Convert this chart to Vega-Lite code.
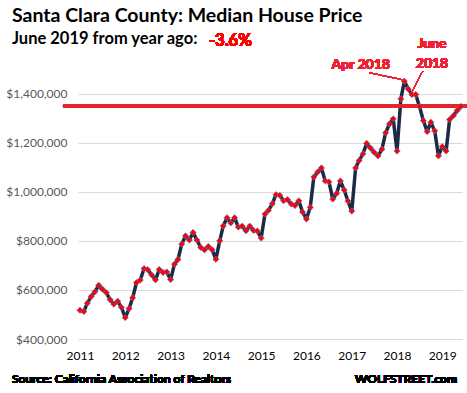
{
  "$schema": "https://vega.github.io/schema/vega-lite/v6.json",
  "width": 384,
  "height": 270,
  "autosize": {"type": "none"},
  "padding": {"left": 78, "top": 69, "right": 5, "bottom": 54},
  "background": "white",
  "config": {"font": "Lato", "view": {"stroke": null}},
  "title": {
    "text": "Santa Clara County: Median House Price",
    "subtitle": "June 2019 from year ago:",
    "anchor": "start",
    "frame": "group",
    "dx": -66,
    "offset": -16,
    "font": "Lato",
    "fontSize": 19.5,
    "fontWeight": "bold",
    "color": "black",
    "subtitleFont": "Lato",
    "subtitleFontSize": 16.5,
    "subtitleFontWeight": "bold",
    "subtitleColor": "black",
    "subtitlePadding": 5
  },
  "data": {"values": [
    {"month": "2011-01-01", "price": 517000}, {"month": "2011-02-01", "price": 512000}, {"month": "2011-03-01", "price": 546000}, {"month": "2011-04-01", "price": 573000}, {"month": "2011-05-01", "price": 592000}, {"month": "2011-06-01", "price": 619000}, {"month": "2011-07-01", "price": 603000}, {"month": "2011-08-01", "price": 589000}, {"month": "2011-09-01", "price": 560000}, {"month": "2011-10-01", "price": 542000}, {"month": "2011-11-01", "price": 554000}, {"month": "2011-12-01", "price": 529000},
    {"month": "2012-01-01", "price": 487000}, {"month": "2012-02-01", "price": 524000}, {"month": "2012-03-01", "price": 568000}, {"month": "2012-04-01", "price": 630000}, {"month": "2012-05-01", "price": 640000}, {"month": "2012-06-01", "price": 687000}, {"month": "2012-07-01", "price": 682000}, {"month": "2012-08-01", "price": 661000}, {"month": "2012-09-01", "price": 641000}, {"month": "2012-10-01", "price": 683000}, {"month": "2012-11-01", "price": 671000}, {"month": "2012-12-01", "price": 673000},
    {"month": "2013-01-01", "price": 642000}, {"month": "2013-02-01", "price": 705000}, {"month": "2013-03-01", "price": 724000}, {"month": "2013-04-01", "price": 787000}, {"month": "2013-05-01", "price": 820000}, {"month": "2013-06-01", "price": 803000}, {"month": "2013-07-01", "price": 834000}, {"month": "2013-08-01", "price": 803000}, {"month": "2013-09-01", "price": 773000}, {"month": "2013-10-01", "price": 763000}, {"month": "2013-11-01", "price": 777000}, {"month": "2013-12-01", "price": 764000},
    {"month": "2014-01-01", "price": 725000}, {"month": "2014-02-01", "price": 800000}, {"month": "2014-03-01", "price": 860000}, {"month": "2014-04-01", "price": 894000}, {"month": "2014-05-01", "price": 873000}, {"month": "2014-06-01", "price": 894000}, {"month": "2014-07-01", "price": 856000}, {"month": "2014-08-01", "price": 860000}, {"month": "2014-09-01", "price": 841000}, {"month": "2014-10-01", "price": 860000}, {"month": "2014-11-01", "price": 842000}, {"month": "2014-12-01", "price": 840000},
    {"month": "2015-01-01", "price": 811000}, {"month": "2015-02-01", "price": 909000}, {"month": "2015-03-01", "price": 924000}, {"month": "2015-04-01", "price": 951000}, {"month": "2015-05-01", "price": 988000}, {"month": "2015-06-01", "price": 985000}, {"month": "2015-07-01", "price": 963000}, {"month": "2015-08-01", "price": 968000}, {"month": "2015-09-01", "price": 950000}, {"month": "2015-10-01", "price": 944000}, {"month": "2015-11-01", "price": 963000}, {"month": "2015-12-01", "price": 917000},
    {"month": "2016-01-01", "price": 889000}, {"month": "2016-02-01", "price": 936000}, {"month": "2016-03-01", "price": 1060000}, {"month": "2016-04-01", "price": 1080000}, {"month": "2016-05-01", "price": 1097000}, {"month": "2016-06-01", "price": 1044000}, {"month": "2016-07-01", "price": 1040000}, {"month": "2016-08-01", "price": 970000}, {"month": "2016-09-01", "price": 993000}, {"month": "2016-10-01", "price": 1044000}, {"month": "2016-11-01", "price": 1007000}, {"month": "2016-12-01", "price": 962000},
    {"month": "2017-01-01", "price": 921000}, {"month": "2017-02-01", "price": 1097000}, {"month": "2017-03-01", "price": 1127000}, {"month": "2017-04-01", "price": 1154000}, {"month": "2017-05-01", "price": 1197000}, {"month": "2017-06-01", "price": 1178000}, {"month": "2017-07-01", "price": 1160000}, {"month": "2017-08-01", "price": 1146000}, {"month": "2017-09-01", "price": 1173000}, {"month": "2017-10-01", "price": 1240000}, {"month": "2017-11-01", "price": 1276000}, {"month": "2017-12-01", "price": 1297000},
    {"month": "2018-01-01", "price": 1166000}, {"month": "2018-02-01", "price": 1378000}, {"month": "2018-03-01", "price": 1450000}, {"month": "2018-04-01", "price": 1419000}, {"month": "2018-05-01", "price": 1396000}, {"month": "2018-06-01", "price": 1396000}, {"month": "2018-07-01", "price": 1347000}, {"month": "2018-08-01", "price": 1290000}, {"month": "2018-09-01", "price": 1245000}, {"month": "2018-10-01", "price": 1283000}, {"month": "2018-11-01", "price": 1248000}, {"month": "2018-12-01", "price": 1146000},
    {"month": "2019-01-01", "price": 1184000}, {"month": "2019-02-01", "price": 1166000}, {"month": "2019-03-01", "price": 1294000}, {"month": "2019-04-01", "price": 1310000}, {"month": "2019-05-01", "price": 1331000}, {"month": "2019-06-01", "price": 1348000}
  ]},
  "layer": [
    {
      "mark": {"type": "line", "color": "#1b2a45", "strokeWidth": 3.5, "strokeJoin": "round"},
      "encoding": {
        "x": {
          "field": "month", "type": "temporal",
          "scale": {"type": "utc", "domain": [{"year": 2010, "month": 12, "date": 16, "utc": true}, {"year": 2019, "month": 6, "date": 9, "utc": true}]},
          "axis": {
            "title": null, "format": "%Y", "formatType": "utc",
            "values": [{"year": 2011, "month": 1, "date": 1, "utc": true}, {"year": 2012, "month": 1, "date": 1, "utc": true}, {"year": 2013, "month": 1, "date": 1, "utc": true}, {"year": 2014, "month": 1, "date": 1, "utc": true}, {"year": 2015, "month": 1, "date": 1, "utc": true}, {"year": 2016, "month": 1, "date": 1, "utc": true}, {"year": 2017, "month": 1, "date": 1, "utc": true}, {"year": 2018, "month": 1, "date": 1, "utc": true}, {"year": 2019, "month": 1, "date": 1, "utc": true}],
            "grid": false, "domain": false, "ticks": false,
            "labelFont": "Lato", "labelFontSize": 12, "labelColor": "#000000", "labelPadding": 11, "labelAlign": "center"
          }
        },
        "y": {
          "field": "price", "type": "quantitative",
          "scale": {"domain": [400000, 1500000], "nice": false, "zero": false},
          "axis": {
            "title": null, "values": [400000, 600000, 800000, 1000000, 1200000, 1400000], "format": "$,.0f",
            "grid": true, "gridColor": "#d9d9d9", "gridWidth": 1, "domain": false, "ticks": false,
            "labelFont": "Lato", "labelFontSize": 12, "labelColor": "#595959", "labelPadding": 11
          }
        }
      }
    },
    {
      "mark": {"type": "rule", "color": "#e3262b", "strokeWidth": 3},
      "encoding": {
        "x": {"datum": {"year": 2010, "month": 8, "date": 17, "utc": true}, "type": "temporal"},
        "x2": {"datum": {"year": 2019, "month": 7, "date": 19, "utc": true}},
        "y": {"datum": 1350000, "type": "quantitative"}
      }
    },
    {
      "mark": {"type": "point", "shape": "diamond", "filled": true, "fill": "#ff0000", "stroke": "#5b7fc7", "strokeWidth": 0.6, "size": 40, "opacity": 1},
      "encoding": {
        "x": {"field": "month", "type": "temporal"},
        "y": {"field": "price", "type": "quantitative"}
      }
    },
    {
      "mark": {"type": "rule", "color": "#ee2233", "strokeWidth": 1},
      "encoding": {
        "x": {"datum": {"year": 2017, "month": 5, "date": 20, "utc": true}, "type": "temporal"},
        "y": {"datum": 1485000, "type": "quantitative"},
        "x2": {"datum": {"year": 2018, "month": 2, "date": 26, "utc": true}},
        "y2": {"datum": 1455000}
      }
    },
    {
      "mark": {"type": "rule", "color": "#ee2233", "strokeWidth": 1},
      "encoding": {
        "x": {"datum": {"year": 2018, "month": 7, "date": 27, "utc": true}, "type": "temporal"},
        "y": {"datum": 1491000, "type": "quantitative"},
        "x2": {"datum": {"year": 2018, "month": 4, "date": 29, "utc": true}},
        "y2": {"datum": 1405000}
      }
    },
    {
      "mark": {"type": "text", "text": "Apr 2018", "font": "Lato", "fontSize": 14, "fontWeight": "bold", "color": "#ee2233", "align": "right", "baseline": "alphabetic"},
      "encoding": {
        "x": {"datum": {"year": 2017, "month": 11, "date": 5, "utc": true}, "type": "temporal"},
        "y": {"datum": 1502000, "type": "quantitative"}
      }
    },
    {
      "mark": {"type": "text", "text": ["June", "2018"], "lineHeight": 20, "font": "Lato", "fontSize": 14, "fontWeight": "bold", "color": "#ee2233", "align": "center", "baseline": "alphabetic"},
      "encoding": {
        "x": {"datum": {"year": 2018, "month": 10, "date": 10, "utc": true}, "type": "temporal"},
        "y": {"datum": 1587000, "type": "quantitative"}
      }
    },
    {
      "mark": {"type": "text", "text": "-3.6%", "font": "Lato", "fontSize": 16.5, "fontWeight": "bold", "color": "#ff0000", "align": "left", "baseline": "alphabetic"},
      "encoding": {
        "x": {"datum": {"year": 2013, "month": 11, "date": 6, "utc": true}, "type": "temporal"},
        "y": {"datum": 1595000, "type": "quantitative"}
      }
    },
    {
      "mark": {"type": "text", "text": "Source: California Association of Realtors", "font": "Lato", "fontSize": 12, "fontWeight": "bold", "color": "#000000", "align": "left", "baseline": "alphabetic"},
      "encoding": {
        "x": {"datum": {"year": 2009, "month": 7, "date": 2, "utc": true}, "type": "temporal"},
        "y": {"datum": 222000, "type": "quantitative"}
      }
    },
    {
      "mark": {"type": "text", "text": "WOLFSTREET.com", "font": "Lato", "fontSize": 12, "fontWeight": "bold", "color": "#000000", "align": "right", "baseline": "alphabetic"},
      "encoding": {
        "x": {"datum": {"year": 2019, "month": 4, "date": 30, "utc": true}, "type": "temporal"},
        "y": {"datum": 222000, "type": "quantitative"}
      }
    }
  ]
}
